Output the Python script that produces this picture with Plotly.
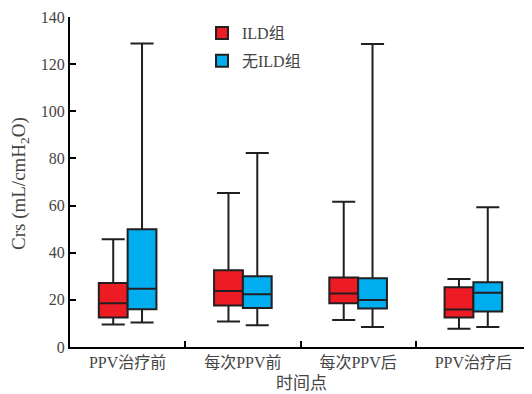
import plotly.graph_objects as go

categories = ["PPV治疗前", "每次PPV前", "每次PPV后", "PPV治疗后"]

ild_lower = [9.5, 10.8, 11.5, 7.7]
ild_q1 = [12.5, 17.6, 18.6, 12.5]
ild_median = [18.6, 23.8, 22.7, 15.9]
ild_q3 = [27.1, 32.6, 29.5, 25.4]
ild_upper = [45.7, 65.3, 61.6, 28.9]

non_lower = [10.4, 9.2, 8.5, 8.5]
non_q1 = [16.0, 16.5, 16.3, 15.1]
non_median = [24.7, 22.4, 19.9, 23.0]
non_q3 = [50.0, 30.0, 29.2, 27.5]
non_upper = [128.8, 82.3, 128.5, 59.3]

serif = "Liberation Serif, Noto Sans CJK SC, serif"
line_col = "#231F20"
text_col = "#444444"

W, H = 524, 386
ML, MR, MT, MB = 62, 1, 9, 47
plot_w = W - ML - MR
plot_h = H - MT - MB

fig = go.Figure()
fig.add_trace(go.Box(
    name="ILD组", x=categories, q1=ild_q1, median=ild_median, q3=ild_q3,
    lowerfence=ild_lower, upperfence=ild_upper, legendgroup="a",
    fillcolor="#ED1C24", line=dict(color=line_col, width=2),
    whiskerwidth=0.8, boxpoints=False,
))
fig.add_trace(go.Box(
    name="无ILD组", x=categories, q1=non_q1, median=non_median, q3=non_q3,
    lowerfence=non_lower, upperfence=non_upper, legendgroup="b",
    fillcolor="#00AEEF", line=dict(color=line_col, width=2),
    whiskerwidth=0.8, boxpoints=False,
))

fig.update_layout(
    width=W, height=H,
    margin=dict(l=ML, r=MR, t=MT, b=MB),
    paper_bgcolor="white", plot_bgcolor="white",
    boxmode="group", boxgap=0.5, boxgroupgap=0,
    font=dict(family=serif, size=16, color=text_col),
    legend=dict(x=(194 - ML) / plot_w, y=(H - MB - 8) / plot_h,
                xanchor="left", yanchor="top",
                font=dict(family=serif, size=16, color=text_col),
                bgcolor="rgba(0,0,0,0)", itemwidth=30, tracegroupgap=4),
    xaxis=dict(
        type="category", tickson="boundaries", ticks="inside", ticklen=6,
        tickwidth=2, tickcolor="black", showline=True, linecolor="black",
        linewidth=2, showgrid=False, range=[-0.5, 3.5], automargin=False,
        tickfont=dict(size=16, color=text_col),
    ),
    yaxis=dict(
        range=[0, 140], dtick=20, ticks="inside", ticklen=6, tickwidth=2,
        tickcolor="black", showline=True, linecolor="black", linewidth=2,
        showgrid=False, zeroline=False, automargin=False,
        tickfont=dict(size=16, color=text_col),
    ),
)
fig.add_annotation(
    text="时间点", x=(293 - ML) / plot_w, xref="paper",
    y=((H - MB) - 375) / plot_h, yref="paper", showarrow=False,
    font=dict(size=17, color=text_col), xanchor="center", yanchor="middle",
)
fig.add_annotation(
    text="Crs (mL/cmH<sub>2</sub>O)", x=(12 - ML) / plot_w, xref="paper",
    y=((H - MB) - 176) / plot_h, yref="paper", textangle=-90, showarrow=False,
    font=dict(size=19, color=text_col), xanchor="center", yanchor="middle",
    borderpad=0,
)

fig.write_html("out.html")
